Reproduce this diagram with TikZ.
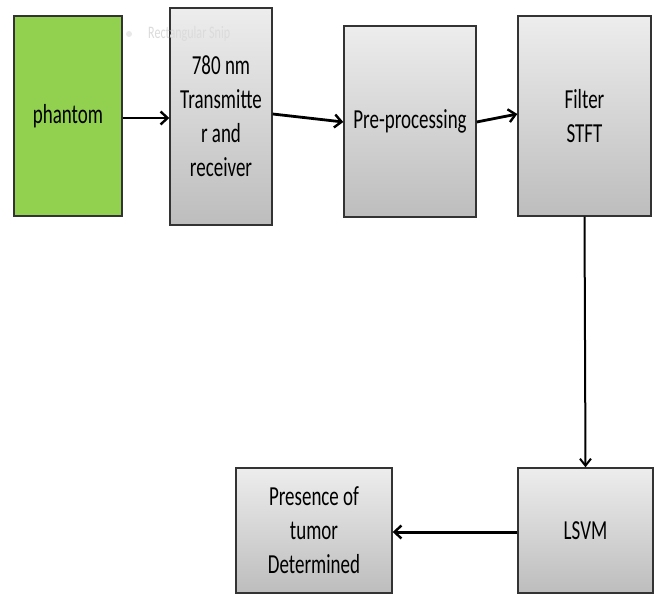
\documentclass[tikz,border=0pt]{standalone}
\usepackage{fontspec}
\setmainfont{Carlito}[FakeStretch=0.69]
\usetikzlibrary{arrows.meta}
\definecolor{boxgreen}{HTML}{92D050}
\definecolor{edgegray}{HTML}{333333}
\definecolor{gradtop}{HTML}{EDEDED}
\definecolor{gradbot}{HTML}{BDBDBD}
\tikzset{
  blk/.style={draw=edgegray, line width=1.4pt, inner sep=0pt, align=center,
    font=\fontsize{27.5}{34}\selectfont, text=black},
  graybox/.style={blk, top color=gradtop, bottom color=gradbot},
  greenbox/.style={blk, fill=boxgreen},
  arr/.style={line width=2.8pt, -{Straight Barb[length=7pt,width=13pt,line width=2.4pt]}},
  varr/.style={line width=2pt, -{Straight Barb[length=7pt,width=11pt,line width=2pt]}},
}
\begin{document}
\begin{tikzpicture}[x=1pt,y=-1pt]
\useasboundingbox (0,0) rectangle (661,596);
\fill[white] (0,0) rectangle (661,596);
% boxes
\node[greenbox, minimum width=108, minimum height=200] (phantom) at (68,116) {phantom};
\node[graybox, minimum width=102, minimum height=217] (trans) at (221,116.5) {780 nm\\Transmitte\\r and\\receiver};
\node[graybox, minimum width=132, minimum height=191] (pre) at (410,121.5) {Pre-processing};
\node[graybox, minimum width=133, minimum height=200] (filter) at (584.5,116) {Filter\\STFT};
\node[graybox, minimum width=135, minimum height=125] (lsvm) at (585.5,530.5) {LSVM};
\node[graybox, minimum width=156, minimum height=125] (presence) at (314,530.5) {Presence of\\tumor\\Determined};
% faint screenshot artifact
\fill[black!9] (129,34) circle (3);
\node[font=\fontsize{17.5}{20}\selectfont, text=black!14, inner sep=0pt, anchor=west] (snip) at (148,34) {Rectangular Snip};
% connectors
\draw[arr] ([yshift=-2pt]phantom.east) -- ([yshift=-1.5pt]trans.west);
\draw[arr] ([yshift=2.5pt]trans.east) -- ([yshift=-0.5pt]pre.west);
\draw[arr] ([yshift=-0.5pt]pre.east) -- ([yshift=2pt]filter.west);
\draw[varr] (filter.south) -- (lsvm.north);
\draw[arr, line width=3pt] ([yshift=-1.5pt]lsvm.west) -- ([yshift=-1.5pt]presence.east);
\end{tikzpicture}
\end{document}
